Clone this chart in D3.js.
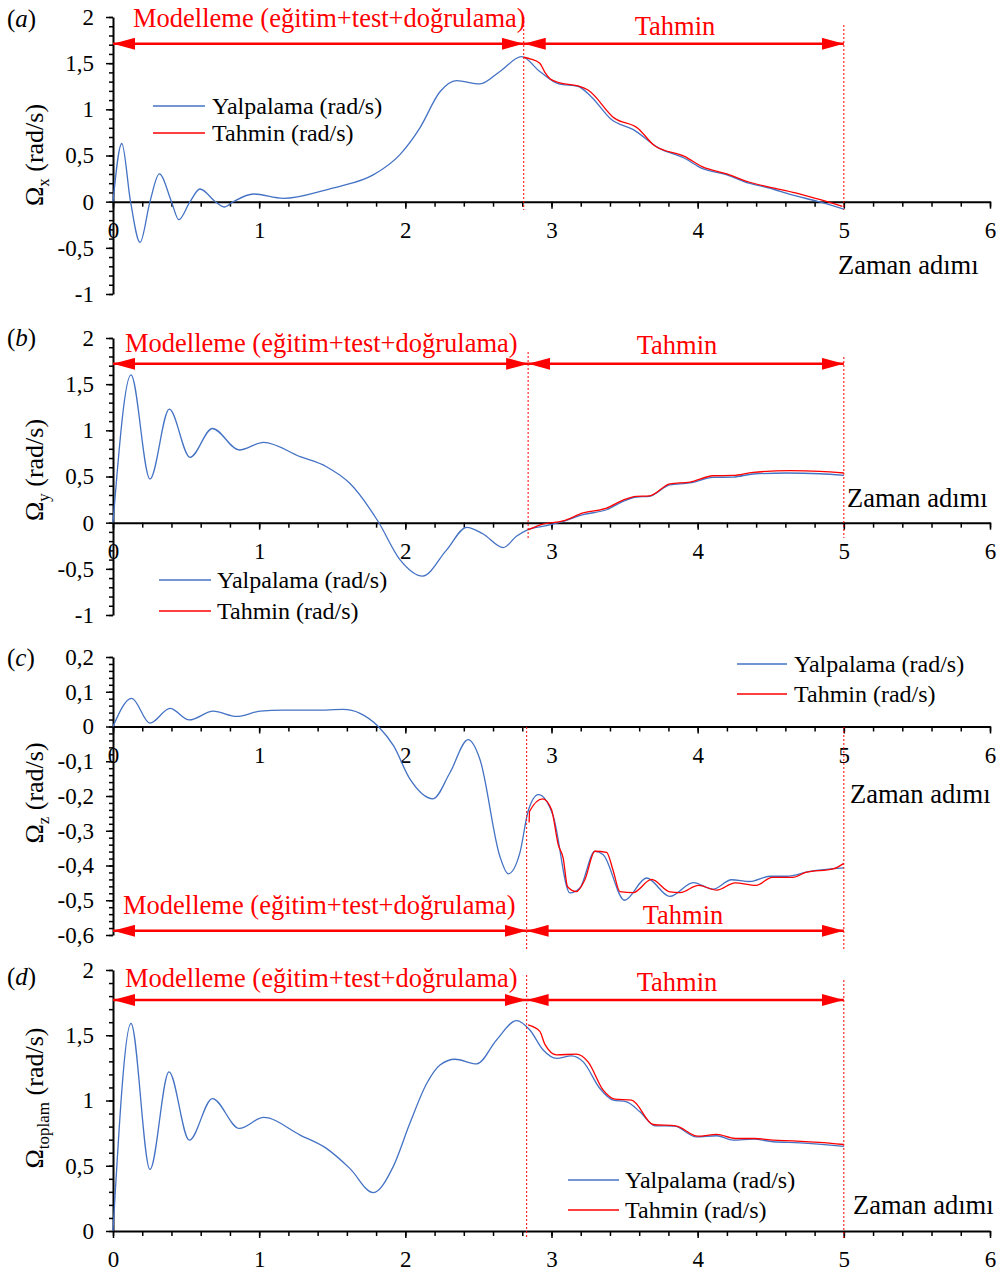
<!DOCTYPE html>
<html>
<head>
<meta charset="utf-8">
<script src="https://cdn.jsdelivr.net/npm/d3@7"></script>
<style>
  body { margin: 0; background: #fff; }
  svg { display: block; }
  text { font-family: 'Liberation Serif', 'Times New Roman', Times, serif; }
</style>
</head>
<body>
<svg id="chart" width="1000" height="1278"></svg>
<script>
// ---- tick labels ----
const xTicks = [0, 1, 2, 3, 4, 5, 6];
const yTicksAB = [-1, -0.5, 0, 0.5, 1, 1.5, 2];
const yTicksC = [-0.6, -0.5, -0.4, -0.3, -0.2, -0.1, 0, 0.1, 0.2];
const yTicksD = [0, 0.5, 1, 1.5, 2];

// ---- (a) Ωx ----
const tA = [0, 0.06, 0.12, 0.185, 0.253, 0.317, 0.40, 0.45, 0.527, 0.595, 0.70, 0.76, 0.823, 0.96, 1.165,
  1.48, 1.553, 1.78, 1.963, 2.10, 2.237, 2.35, 2.51, 2.647, 2.795, 2.92, 3.05, 3.18, 3.27, 3.41, 3.56, 3.735,
  3.91, 4.03, 4.20, 4.35, 4.49, 4.64, 4.82, 5.0];
const yalA = [0, 0.63, 0, -0.44, 0, 0.30, 0, -0.195, 0, 0.137, 0, -0.058, 0, 0.083, 0.036,
  0.137, 0.166, 0.29, 0.51, 0.80, 1.19, 1.31, 1.275, 1.41, 1.57, 1.41, 1.275, 1.25, 1.14, 0.89, 0.78, 0.58,
  0.47, 0.36, 0.29, 0.20, 0.148, 0.076, 0.003, -0.08];
const tPredA = [2.81, 2.86, 2.92, 2.955, 2.99, 3.05, 3.18, 3.25, 3.43, 3.59, 3.706, 3.91, 4.03, 4.20, 4.35, 4.49, 4.67, 4.82, 4.99];
const predA = [1.564, 1.545, 1.50, 1.40, 1.33, 1.29, 1.254, 1.21, 0.905, 0.796, 0.605, 0.49, 0.38, 0.30, 0.213, 0.158, 0.094, 0.029, -0.05];

// ---- (b) Ωy ----
const tB = [0, 0.123, 0.253, 0.385, 0.527, 0.68, 0.864, 1.03, 1.28, 1.46, 1.62, 1.815, 1.963, 2.118, 2.28,
  2.42, 2.53, 2.67, 2.76, 2.84, 2.966, 3.08, 3.217, 3.377, 3.49, 3.58, 3.67, 3.81, 3.947, 4.106, 4.243, 4.38,
  4.608, 4.836, 5.0];
const yalB = [0, 1.60, 0.473, 1.23, 0.708, 1.02, 0.787, 0.87, 0.715, 0.606, 0.426, 0.01, -0.40, -0.578, -0.30,
  -0.05, -0.12, -0.27, -0.148, -0.076, -0.032, 0.014, 0.087, 0.14, 0.23, 0.278, 0.285, 0.41, 0.43, 0.49, 0.494, 0.527,
  0.538, 0.53, 0.512];
const tPredB = [2.84, 2.93, 3.08, 3.217, 3.377, 3.49, 3.58, 3.67, 3.81, 3.947, 4.106, 4.243, 4.38, 4.63, 4.836, 5.0];
const predB = [-0.076, -0.02, 0.02, 0.105, 0.158, 0.245, 0.285, 0.29, 0.42, 0.44, 0.508, 0.512, 0.545, 0.563, 0.556, 0.538];

// ---- (c) Ωz ----
const tC = [0, 0.128, 0.253, 0.39, 0.522, 0.686, 0.846, 1.005, 1.165, 1.39, 1.575, 1.69, 1.815, 1.92, 2.03,
  2.19, 2.305, 2.43, 2.51, 2.647, 2.704, 2.784, 2.84, 2.91, 3.012, 3.126, 3.194, 3.297, 3.354, 3.50,
  3.65, 3.81, 3.97, 4.106, 4.231, 4.357, 4.494, 4.608, 4.767, 5.0];
const yalC = [0, 0.081, 0.0096, 0.052, 0.019, 0.044, 0.029, 0.044, 0.047, 0.047, 0.049, 0.038, 0, -0.056, -0.15,
  -0.208, -0.133, -0.038, -0.094, -0.374, -0.424, -0.363, -0.244, -0.196, -0.258, -0.479, -0.465, -0.359, -0.369, -0.50,
  -0.436, -0.489, -0.449, -0.468, -0.441, -0.446, -0.431, -0.431, -0.417, -0.407];
const tPredC = [2.847, 2.85, 2.94, 3.0, 3.046, 3.08, 3.11, 3.17, 3.228, 3.297, 3.377, 3.42, 3.468, 3.559, 3.685,
  3.81, 3.88, 4.005, 4.13, 4.256, 4.40, 4.51, 4.65, 4.74, 4.927, 5.0];
const predC = [-0.276, -0.244, -0.208, -0.239, -0.340, -0.379, -0.461, -0.475, -0.441, -0.359, -0.362, -0.412, -0.475, -0.478, -0.44,
  -0.476, -0.478, -0.457, -0.471, -0.45, -0.457, -0.434, -0.434, -0.42, -0.41, -0.394];

// ---- (d) Ωtoplam ----
const tD = [0, 0.123, 0.253, 0.383, 0.522, 0.68, 0.864, 1.03, 1.28, 1.46, 1.62, 1.78, 1.917, 2.031, 2.146,
  2.237, 2.34, 2.488, 2.624, 2.761, 2.852, 2.943, 3.035, 3.137, 3.217, 3.331, 3.422, 3.514, 3.605,
  3.708, 3.84, 3.99, 4.13, 4.243, 4.38, 4.517, 4.7, 5.0];
const yalD = [0, 1.59, 0.472, 1.22, 0.696, 1.015, 0.786, 0.87, 0.735, 0.633, 0.48, 0.294, 0.493, 0.825, 1.13,
  1.272, 1.316, 1.28, 1.464, 1.612, 1.54, 1.387, 1.323, 1.342, 1.296, 1.092, 1.003, 0.99, 0.913,
  0.806, 0.804, 0.722, 0.73, 0.696, 0.704, 0.684, 0.676, 0.648];
const tPredD = [2.84, 2.92, 2.955, 3.035, 3.17, 3.25, 3.354, 3.434, 3.548, 3.696, 3.85, 4.0, 4.13, 4.256, 4.39, 4.517, 4.65, 4.83, 5.0];
const predD = [1.58, 1.53, 1.43, 1.35, 1.355, 1.296, 1.079, 1.01, 1.003, 0.816, 0.806, 0.727, 0.74, 0.709, 0.709, 0.696, 0.691, 0.679, 0.663];

const BLUE = '#4472C4', RED = '#FF0000';
const svg = d3.select('#chart');
const x = d3.scaleLinear().domain([0, 6]).range([113, 990]);
const fmt = v => String(v).replace('.', ',');

// arrow head marker
svg.append('defs').append('marker')
  .attr('id', 'head')
  .attr('viewBox', '0 0 22 12')
  .attr('refX', 22).attr('refY', 6)
  .attr('markerWidth', 22).attr('markerHeight', 12)
  .attr('markerUnits', 'userSpaceOnUse')
  .attr('orient', 'auto-start-reverse')
  .append('path')
  .attr('d', 'M0,0L22,6L0,12Z')
  .attr('fill', RED);

const panels = [
  { letter: 'a', sub: 'x', yDomain: [-1, 2], yRange: [294, 17], yTicks: yTicksAB, minor: 0.1,
    t: tA, yal: yalA, tp: tPredA, pred: predA,
    titleY: 155, letterY: 27, legend: [153, 205, 106, 27, 212], zaman: [838, 274],
    arrowV: 1.71, model: [133, 27], tahmin: [675, 35], split: 2.81, dot: [17, 25, 210] },
  { letter: 'b', sub: 'y', yDomain: [-1, 2], yRange: [615, 338], yTicks: yTicksAB, minor: 0.1,
    t: tB, yal: yalB, tp: tPredB, pred: predB,
    titleY: 470, letterY: 346, legend: [159, 211, 580, 31, 217], zaman: [847, 507],
    arrowV: 1.72, model: [125, 352], tahmin: [677, 354], split: 2.84, dot: [352, 357, 538] },
  { letter: 'c', sub: 'z', yDomain: [-0.6, 0.2], yRange: [935, 657], yTicks: yTicksC, minor: 0.02,
    t: tC, yal: yalC, tp: tPredC, pred: predC,
    titleY: 793, letterY: 666, legend: [737, 787, 664, 30, 794], zaman: [850, 803],
    arrowV: -0.588, model: [123, 914], tahmin: [683, 924], split: 2.83, dot: [727, 727, 950] },
  { letter: 'd', sub: 'toplam', yDomain: [0, 2], yRange: [1231, 970], yTicks: yTicksD, minor: 0.1,
    t: tD, yal: yalD, tp: tPredD, pred: predD,
    titleY: 1098, letterY: 985, legend: [568, 619, 1180, 30, 625], zaman: [853, 1214],
    arrowV: 1.77, model: [125, 987], tahmin: [677, 991], split: 2.83, dot: [975, 980, 1238] },
];

const minorX = d3.range(0, 6.0001, 0.2);

panels.forEach(p => {
  const y = d3.scaleLinear().domain(p.yDomain).range(p.yRange);
  const g = svg.append('g');
  const y0 = y(0);

  // minor ticks
  const mY = d3.range(p.yDomain[0], p.yDomain[1] + 1e-6, p.minor);
  g.append('g').attr('transform', `translate(${x(0)},0)`)
    .call(d3.axisLeft(y).tickValues(mY).tickSize(4).tickFormat(''))
    .call(s => s.select('.domain').remove());
  g.append('g').attr('transform', `translate(0,${y0})`)
    .call(d3.axisBottom(x).tickValues(minorX).tickSize(5).tickFormat(''))
    .call(s => s.select('.domain').remove());

  // major axes
  const ya = g.append('g').attr('transform', `translate(${x(0)},0)`)
    .call(d3.axisLeft(y).tickValues(p.yTicks).tickSize(7).tickPadding(12).tickSizeOuter(0).tickFormat(fmt));
  const xa = g.append('g').attr('transform', `translate(0,${y0})`)
    .call(d3.axisBottom(x).tickValues(xTicks).tickSize(7).tickPadding(13).tickSizeOuter(0).tickFormat(fmt));
  [ya, xa].forEach(a => {
    a.attr('font-family', null).attr('font-size', null);
    a.select('.domain').attr('stroke', '#000').attr('stroke-width', 2);
    a.selectAll('text').attr('font-size', 23).attr('fill', '#000');
  });
  g.selectAll('.tick line').attr('stroke', '#000').attr('stroke-width', 1.5);

  // curves
  const line = d3.line().x(d => x(d[0])).y(d => y(d[1])).curve(d3.curveMonotoneX);
  g.append('path').attr('d', line(d3.zip(p.t, p.yal)))
    .attr('fill', 'none').attr('stroke', BLUE).attr('stroke-width', 1.3);
  g.append('path').attr('d', line(d3.zip(p.tp, p.pred)))
    .attr('fill', 'none').attr('stroke', RED).attr('stroke-width', 1.3);

  // split lines
  g.append('line').attr('x1', x(p.split)).attr('x2', x(p.split)).attr('y1', p.dot[0]).attr('y2', p.dot[2])
    .attr('stroke', RED).attr('stroke-width', 1).attr('stroke-dasharray', '2,2');
  g.append('line').attr('x1', x(5)).attr('x2', x(5)).attr('y1', p.dot[1]).attr('y2', p.dot[2])
    .attr('stroke', RED).attr('stroke-width', 1).attr('stroke-dasharray', '2,2');

  // arrows
  const ay = y(p.arrowV);
  [[0, p.split], [p.split, 5]].forEach(seg => {
    g.append('line').attr('x1', x(seg[0])).attr('x2', x(seg[1])).attr('y1', ay).attr('y2', ay)
      .attr('stroke', RED).attr('stroke-width', 2.5)
      .attr('marker-start', 'url(#head)').attr('marker-end', 'url(#head)');
  });
  g.append('text').attr('x', p.model[0]).attr('y', p.model[1]).attr('fill', RED).attr('font-size', 26.5)
    .text('Modelleme (eğitim+test+doğrulama)');
  g.append('text').attr('x', p.tahmin[0]).attr('y', p.tahmin[1]).attr('fill', RED).attr('font-size', 26.5)
    .attr('text-anchor', 'middle').text('Tahmin');

  // legend
  const [lx1, lx2, ly, gap, tx] = p.legend;
  [[BLUE, 'Yalpalama (rad/s)'], [RED, 'Tahmin (rad/s)']].forEach((it, i) => {
    g.append('line').attr('x1', lx1).attr('x2', lx2).attr('y1', ly + i * gap).attr('y2', ly + i * gap)
      .attr('stroke', it[0]).attr('stroke-width', 1.5);
    g.append('text').attr('x', tx).attr('y', ly + i * gap).attr('dy', '0.33em')
      .attr('font-size', 24).text(it[1]);
  });

  // x title
  g.append('text').attr('x', p.zaman[0]).attr('y', p.zaman[1]).attr('font-size', 26.5).text('Zaman adımı');

  // y title
  const yt = g.append('text').attr('transform', `translate(43,${p.titleY}) rotate(-90)`)
    .attr('text-anchor', 'middle').attr('font-size', 26);
  yt.append('tspan').text('Ω');
  yt.append('tspan').attr('font-size', 17).attr('dy', 6).text(p.sub);
  yt.append('tspan').attr('dy', -6).text(' (rad/s)');

  // panel letter
  const lt = g.append('text').attr('x', 7).attr('y', p.letterY).attr('font-size', 25);
  lt.append('tspan').text('(');
  lt.append('tspan').attr('font-style', 'italic').text(p.letter);
  lt.append('tspan').text(')');
});
</script>
</body>
</html>
